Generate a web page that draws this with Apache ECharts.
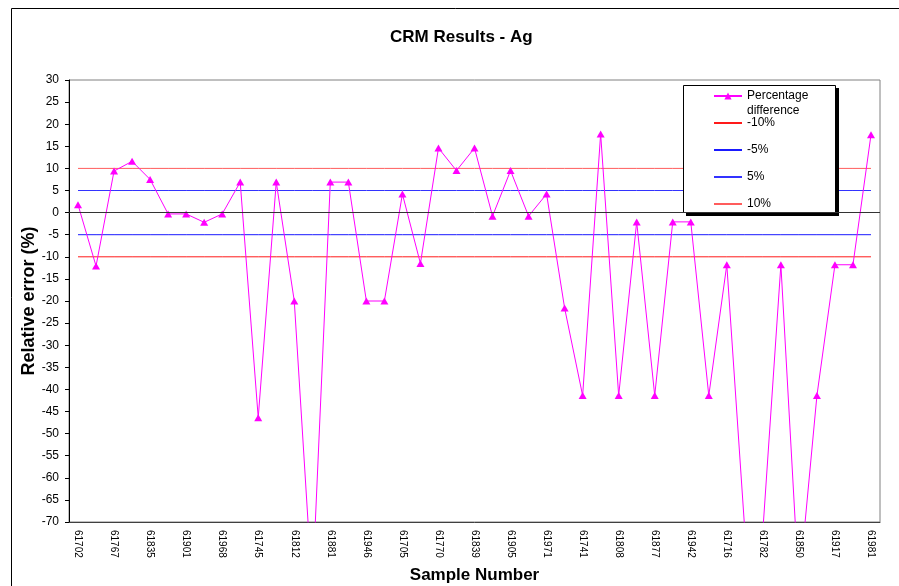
<!DOCTYPE html>
<html>
<head>
<meta charset="utf-8">
<script src="https://cdn.jsdelivr.net/npm/echarts@6/dist/echarts.min.js"></script>
<style>
  html, body { margin: 0; padding: 0; background: #ffffff; }
  #chart { width: 899px; height: 586px; }
</style>
</head>
<body>
<div id="chart"></div>
<script>
// Sample numbers along the x axis (only every other sample carries a printed label)
const sampleLabels = [
  '61702', '', '61767', '', '61835', '', '61901', '', '61968', '',
  '61745', '', '61812', '', '61881', '', '61946', '', '61705', '',
  '61770', '', '61839', '', '61905', '', '61971', '', '61741', '',
  '61808', '', '61877', '', '61942', '', '61716', '', '61782', '',
  '61850', '', '61917', '', '61981'
];

// Relative error (%) of each CRM sample
const percentageDifference = [
  1.8, -12.1, 9.4, 11.6, 7.5, -0.3, -0.3, -2.2, -0.3, 6.9,
  -46.4, 6.9, -20, -85.5, 6.9, 6.9, -20, -20, 4.2, -11.5,
  14.6, 9.5, 14.6, -0.8, 9.5, -0.8, 4.2, -21.6, -41.4, 17.8,
  -41.4, -2.1, -41.4, -2.1, -2.1, -41.4, -11.8, -72, -72, -11.8,
  -85, -41.4, -11.8, -11.8, 17.6
];

// Tolerance limits drawn as flat reference series
const limitNames = ['-10%', '-5%', '5%', '10%'];
const limitLevels = [-10, -5, 5, 10];
const limitColors = ['#ff1a1a', '#1a1aff', '#3333ff', '#ff5c5c'];

// Y axis range and step
const yMin = -70;
const yMax = 30;
const yStep = 5;

const FONT = 'Arial, "Liberation Sans", sans-serif';

const limitSeries = limitNames.map((name, i) => ({
  name: name,
  type: 'line',
  data: sampleLabels.map(() => limitLevels[i]),
  symbol: 'none',
  silent: true,
  z: 2,
  lineStyle: { color: limitColors[i], width: 1 },
  itemStyle: { color: limitColors[i] },
  emphasis: { disabled: true }
}));

const chart = echarts.init(document.getElementById('chart'), null, { renderer: 'canvas' });

chart.setOption({
  animation: false,
  backgroundColor: '#ffffff',
  textStyle: { fontFamily: FONT, color: '#000000' },
  title: {
    text: 'CRM Results - Ag',
    left: 390,
    top: 28,
    padding: 0,
    textStyle: { fontFamily: FONT, fontSize: 17, fontWeight: 'bold', color: '#000000', lineHeight: 19 }
  },
  graphic: [
    // outer chart frame
    {
      type: 'rect', z: 0, silent: true,
      shape: { x: 11.5, y: 8.5, width: 900, height: 600 },
      style: { fill: 'none', stroke: '#000000', lineWidth: 1 }
    },
    // legend panel shadow
    {
      type: 'rect', z: 3, silent: true,
      shape: { x: 686, y: 88, width: 153, height: 128 },
      style: { fill: '#000000', stroke: 'none' }
    },
    // legend panel
    {
      type: 'rect', z: 3, silent: true,
      shape: { x: 683.5, y: 85.5, width: 152, height: 127 },
      style: { fill: '#ffffff', stroke: '#000000', lineWidth: 1 }
    }
  ],
  legend: [
    {
      data: ['Percentage difference'],
      // leading blank line keeps the first text line level with the marker
      formatter: () => '\nPercentage\ndifference',
      orient: 'vertical',
      left: 713,
      top: 73.5,
      padding: 0,
      itemWidth: 28,
      itemHeight: 9,
      itemGap: 13,
      selectedMode: false,
      z: 5,
      textStyle: { fontFamily: FONT, fontSize: 12, lineHeight: 15, color: '#000000' }
    },
    {
      data: limitNames.map(name => ({ name: name, itemStyle: { opacity: 0 } })),
      orient: 'vertical',
      left: 713,
      top: 117,
      padding: 0,
      itemWidth: 28,
      itemHeight: 14,
      itemGap: 15,
      selectedMode: false,
      z: 5,
      textStyle: { fontFamily: FONT, fontSize: 12, color: '#000000' }
    }
  ],
  grid: {
    left: 69,
    right: 19,
    top: 80,
    bottom: 64,
    outerBoundsMode: 'none',
    show: true,
    borderColor: '#808080',
    borderWidth: 1,
    backgroundColor: '#ffffff'
  },
  xAxis: {
    type: 'category',
    data: sampleLabels,
    boundaryGap: true,
    name: 'Sample Number',
    nameLocation: 'middle',
    nameGap: 45,
    nameMoveOverlap: false,
    nameTextStyle: { fontFamily: FONT, fontSize: 17, fontWeight: 'bold', color: '#000000' },
    axisLine: { show: true, onZero: false, lineStyle: { color: '#404040', width: 1 } },
    axisTick: { show: false },
    axisLabel: {
      interval: 0,
      rotate: -90,
      margin: 8,
      fontFamily: FONT,
      fontSize: 10,
      color: '#000000'
    },
    splitLine: { show: false }
  },
  yAxis: {
    type: 'value',
    min: yMin,
    max: yMax,
    interval: yStep,
    name: 'Relative error (%)',
    nameLocation: 'middle',
    nameGap: 31,
    nameMoveOverlap: false,
    nameTextStyle: { fontFamily: FONT, fontSize: 18, fontWeight: 'bold', color: '#000000' },
    axisLine: { show: true, lineStyle: { color: '#000000', width: 1 } },
    axisTick: { show: true, inside: false, length: 4, lineStyle: { color: '#000000' } },
    axisLabel: { margin: 10, fontFamily: FONT, fontSize: 12, color: '#000000' },
    splitLine: { show: false }
  },
  series: [
    ...limitSeries,
    {
      name: 'Percentage difference',
      type: 'line',
      data: percentageDifference,
      symbol: 'triangle',
      symbolSize: [8, 7],
      showAllSymbol: true,
      z: 2,
      lineStyle: { color: '#ff00ff', width: 1 },
      itemStyle: { color: '#ff00ff' },
      emphasis: { disabled: true },
      markLine: {
        silent: true,
        symbol: 'none',
        label: { show: false },
        lineStyle: { color: '#333333', width: 1, type: 'solid' },
        data: [{ yAxis: 0 }]
      }
    }
  ]
});
</script>
</body>
</html>
